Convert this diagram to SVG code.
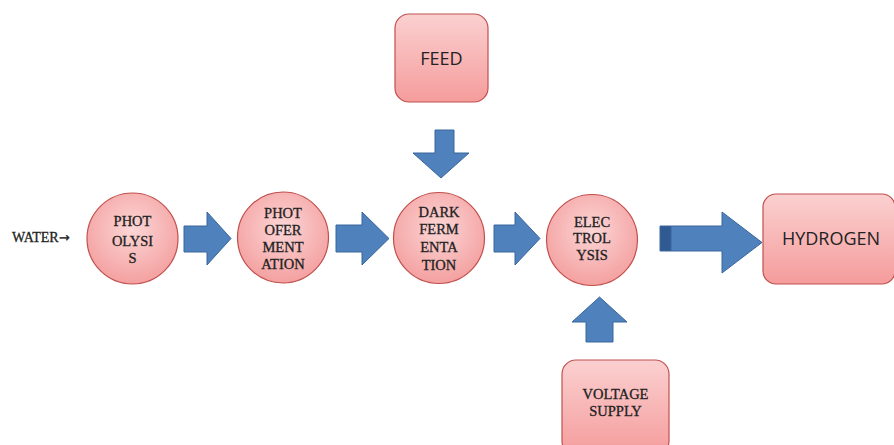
<svg xmlns="http://www.w3.org/2000/svg" width="894" height="445" viewBox="0 0 894 445">
<defs>
<linearGradient id="boxg" x1="0" y1="0" x2="0" y2="1">
<stop offset="0" stop-color="#fbd0d0"/>
<stop offset="1" stop-color="#f59c9c"/>
</linearGradient>
<radialGradient id="circg" cx="0.5" cy="0.4" r="0.6">
<stop offset="0" stop-color="#fcd6d6"/>
<stop offset="1" stop-color="#f4a0a0"/>
</radialGradient>
<linearGradient id="shaftg" x1="0" y1="0" x2="1" y2="0">
<stop offset="0" stop-color="#2f5b92"/>
<stop offset="0.1" stop-color="#2f5b92"/>
<stop offset="0.12" stop-color="#4f81bd"/>
<stop offset="1" stop-color="#4f81bd"/>
</linearGradient>
</defs>
<style>
.box{fill:url(#boxg);stroke:#c0504d;stroke-width:1.2}
.circ{fill:url(#circg);stroke:#c0504d;stroke-width:1.2}
.arr{fill:#4f81bd;stroke:#3a669c;stroke-width:1}
.sans{font-family:"Open Sans","Liberation Sans",sans-serif;font-size:18px;fill:#222;text-anchor:middle}
.ser{font-family:"Liberation Serif","DejaVu Serif",serif;font-size:14.5px;fill:#222;stroke:#222;stroke-width:0.3;text-anchor:middle}
</style>
<rect width="894" height="445" fill="#ffffff"/>
<g id="connectors">
<path class="arr" d="M184,226 H207 V212 L231,238.5 L207,265 V252 H184 Z"/>
<path class="arr" d="M336,225 H362 V212 L389,238.5 L362,265 V252 H336 Z"/>
<path class="arr" d="M494,225 H515 V212 L540,238.5 L515,265 V252 H494 Z"/>
<path class="arr" d="M660,226 H722 V212 L762,242.5 L722,273 V251 H660 Z" style="fill:url(#shaftg)"/>
<path class="arr" d="M435,130 H454 V153 H469 L441,178 L413,153 H435 Z"/>
<path class="arr" d="M586,342 H613 V322 H627 L599.5,297 L572,322 H586 Z"/>
</g>
<g id="water"><text x="12" y="242" style="font-family:'Liberation Serif',serif;font-size:14px;fill:#222;stroke:#222;stroke-width:0.3">WATER<tspan style="font-family:'DejaVu Sans',sans-serif;font-size:13px">→</tspan></text></g>
<g id="photolysis">
<circle class="circ" cx="132.5" cy="238.5" r="45.5"/>
<text class="ser" x="132.5" y="226">PHOT</text>
<text class="ser" x="132.5" y="246">OLYSI</text>
<text class="ser" x="132.5" y="263">S</text>
</g>
<g id="photofermentation">
<circle class="circ" cx="283" cy="237.5" r="45.5"/>
<text class="ser" x="283" y="218">PHOT</text>
<text class="ser" x="283" y="235">OFER</text>
<text class="ser" x="283" y="252">MENT</text>
<text class="ser" x="283" y="269">ATION</text>
</g>
<g id="darkfermentation">
<circle class="circ" cx="439" cy="238" r="45.5"/>
<text class="ser" x="439" y="217">DARK</text>
<text class="ser" x="439" y="234">FERM</text>
<text class="ser" x="439" y="252">ENTA</text>
<text class="ser" x="439" y="270">TION</text>
</g>
<g id="electrolysis">
<circle class="circ" cx="592" cy="240" r="45.5"/>
<text class="ser" x="592" y="227">ELEC</text>
<text class="ser" x="592" y="243">TROL</text>
<text class="ser" x="592" y="260">YSIS</text>
</g>
<g id="feed">
<rect class="box" x="395" y="14" width="93" height="88" rx="14"/>
<text class="sans" x="441.5" y="65">FEED</text>
</g>
<g id="hydrogen">
<rect class="box" x="763" y="194" width="132" height="90" rx="13"/>
<text class="sans" x="831" y="245">HYDROGEN</text>
</g>
<g id="voltage">
<rect class="box" x="562" y="360" width="107" height="95" rx="14"/>
<text class="ser" x="615.5" y="399">VOLTAGE</text>
<text class="ser" x="615.5" y="416">SUPPLY</text>
</g>
</svg>
